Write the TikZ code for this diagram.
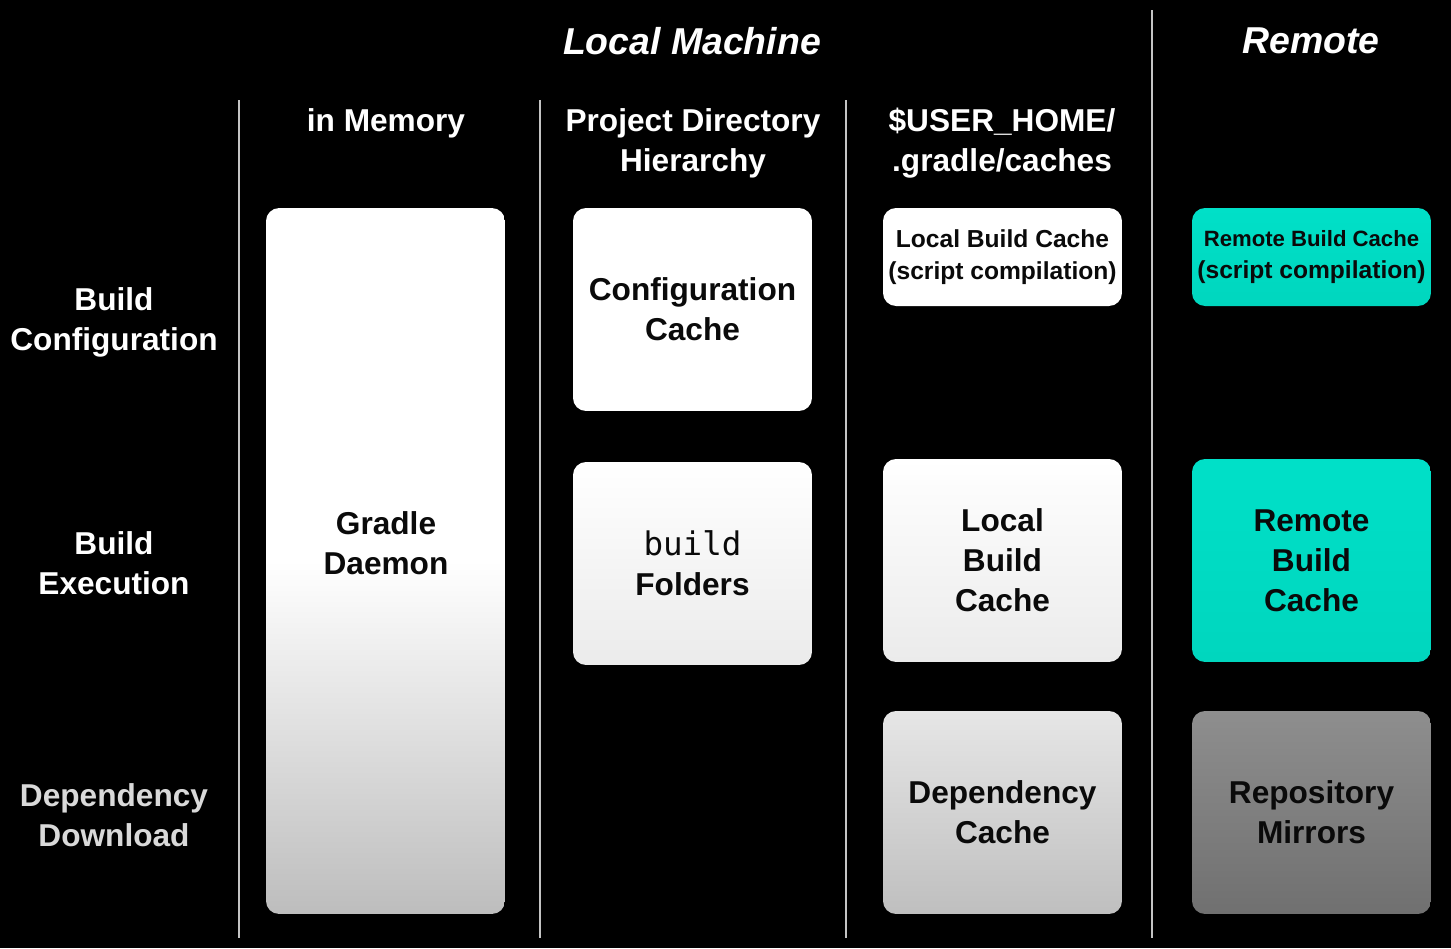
\documentclass[tikz,border=0pt]{standalone}
\usepackage{fontspec}
\setmainfont{Liberation Sans}
\newfontfamily\buildmono{DejaVu Sans Mono}
\definecolor{divider}{HTML}{C4C4C4}
\definecolor{dimtext}{HTML}{D9D9D9}
\definecolor{daemonbot}{HTML}{BDBDBD}
\definecolor{foldbot}{HTML}{EBEBEB}
\definecolor{deptop}{HTML}{E6E6E6}
\definecolor{depbot}{HTML}{BFBFBF}
\definecolor{reptop}{HTML}{8E8E8E}
\definecolor{repbot}{HTML}{707070}
\definecolor{tealtop}{HTML}{00E0C8}
\definecolor{tealbot}{HTML}{00D6BE}
\definecolor{boxink}{HTML}{0A0A0A}
\begin{document}
\begin{tikzpicture}[x=0.02cm,y=-0.02cm,
  divline/.style={draw=divider, line width=1.1pt},
  titletext/.style={text=white, inner sep=0pt, font=\bfseries\itshape\fontsize{21.3}{26}\selectfont},
  headtext/.style={text=white, inner sep=0pt, align=center, font=\bfseries\fontsize{18}{22.76}\selectfont},
  cachebox/.style={rounded corners=0.26cm, minimum width=4.78cm, inner sep=0pt, align=center, text=boxink, font=\bfseries\fontsize{18}{22.76}\selectfont},
  smallbox/.style={cachebox, minimum height=1.96cm, font=\bfseries\fontsize{14}{18.2}\selectfont},
  tallbox/.style={cachebox, minimum height=4.06cm},
  boxtext/.style={inner sep=0pt, align=center, text=boxink, font=\bfseries\fontsize{18}{22.76}\selectfont}
]
\fill[black] (0,0) rectangle (1451,948);
\useasboundingbox (0,0) rectangle (1451,948);

% dividers
\coordinate (d1t) at (239,100); \coordinate (d1b) at (239,938);
\coordinate (d2t) at (540,100); \coordinate (d2b) at (540,938);
\coordinate (d3t) at (846,100); \coordinate (d3b) at (846,938);
\coordinate (d4t) at (1152,10); \coordinate (d4b) at (1152,938);
\draw[divline] (d1t) -- (d1b);
\draw[divline] (d2t) -- (d2b);
\draw[divline] (d3t) -- (d3b);
\draw[divline] (d4t) -- (d4b);

% titles
\node[titletext] (local) at (692,41) {Local Machine};
\node[titletext] (remote) at (1311,41) {Remote};

% column headers
\node[headtext] (hmem) at (386,123) {in Memory};
\node[headtext] (hproj) at (693,143) {Project Directory\\Hierarchy};
\node[headtext] (hhome) at (1002,143) {\$USER\_HOME/\\.gradle/caches};

% row labels
\node[headtext] (rconf) at (114,322) {Build\\Configuration};
\node[headtext] (rexec) at (114,563) {Build\\Execution};
\node[headtext, text=dimtext] (rdep) at (114,815) {Dependency\\Download};

% in memory
\node[cachebox, minimum height=14.12cm, top color=white, bottom color=daemonbot, middle color=white] (daemon) at (385.5,561) {};
\node[boxtext] (daemontext) at (386,543) {Gradle\\Daemon};

% project directory
\node[tallbox, fill=white] (confcache) at (692.5,309.5) {Configuration\\Cache};
\node[tallbox, top color=white, bottom color=foldbot] (folders) at (692.5,563.5) {{\buildmono\mdseries\fontsize{18.5}{22.76}\selectfont build}\\Folders};

% user home caches
\node[smallbox, fill=white] (lbcscript) at (1002.5,257) {Local Build Cache\\(script compilation)};
\node[tallbox, top color=white, bottom color=foldbot] (lbc) at (1002.5,560.5) {Local\\Build\\Cache};
\node[tallbox, top color=deptop, bottom color=depbot] (depcache) at (1002.5,812.5) {Dependency\\Cache};

% remote
\node[smallbox, top color=tealtop, bottom color=tealbot] (rbcscript) at (1311.5,257) {{\fontsize{12.6}{18.2}\selectfont Remote Build Cache}\\(script compilation)};
\node[tallbox, top color=tealtop, bottom color=tealbot] (rbc) at (1311.5,560.5) {Remote\\Build\\Cache};
\node[tallbox, top color=reptop, bottom color=repbot] (mirrors) at (1311.5,812.5) {Repository\\Mirrors};
\end{tikzpicture}
\end{document}
